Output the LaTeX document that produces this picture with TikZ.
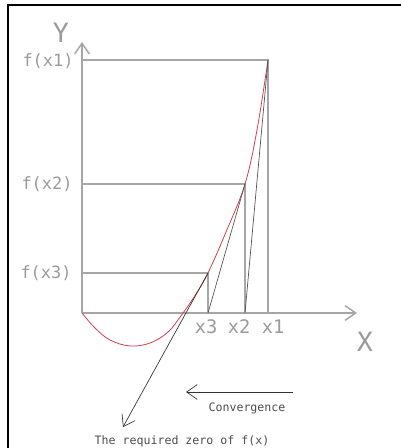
\documentclass[tikz,border=0pt]{standalone}
\usepackage{fontspec}
\setmonofont{DejaVu Sans Mono}
\usetikzlibrary{arrows.meta}
\definecolor{axisgray}{HTML}{A6A6A6}
\definecolor{labelgray}{HTML}{9A9A9A}
\definecolor{tangentgray}{HTML}{505050}
\definecolor{curvered}{HTML}{D0404C}

\begin{document}
\begin{tikzpicture}[
  x=0.75pt, y=-0.75pt,
  >={Straight Barb[length=8pt,width=11pt]},
  axis/.style={draw=axisgray, line width=1.1pt},
  guide/.style={draw=axisgray, line width=0.9pt},
  tangent/.style={draw=tangentgray, line width=0.5pt},
  curve/.style={draw=curvered, line width=0.6pt},
  biglbl/.style={font={\ttfamily\fontsize{20}{22}\selectfont}, text=labelgray, inner sep=0pt},
  flbl/.style={font={\ttfamily\fontsize{12.7}{14}\selectfont}, text=labelgray, inner sep=0pt},
  xlbl/.style={font={\ttfamily\fontsize{14}{16}\selectfont}, text=labelgray, inner sep=0pt},
  note/.style={font={\ttfamily\fontsize{8.7}{10}\selectfont}, text=black!70, inner sep=0pt}
]
\useasboundingbox (0,0) rectangle (401,448);

% frame
\draw[line width=2.2pt] (7,5) -- (401,5);
\draw[line width=1.1pt] (8,5) -- (8,448);

\coordinate (O) at (82,313);
\coordinate (ytop) at (82,42);
\coordinate (xend) at (357,313);
\coordinate (x1) at (268,313);
\coordinate (x2) at (245,313);
\coordinate (x3) at (208,313);
\coordinate (fx1) at (268,60);
\coordinate (fx2) at (245,184);
\coordinate (fx3) at (208,273);
\coordinate (fy1) at (82,60);
\coordinate (fy2) at (82,184);
\coordinate (fy3) at (82,273);
\coordinate (zero) at (123,427);
\coordinate (convR) at (293,392);
\coordinate (convL) at (186,392);

\node[biglbl] (ylab) at (61,33) {Y};
\node[biglbl] (xlab) at (365,342) {X};
\node[flbl] (f1) at (48,61) {f(x1)};
\node[flbl] (f2) at (47,184) {f(x2)};
\node[flbl] (f3) at (46,273) {f(x3)};
\node[xlbl] (lx3) at (206,327) {x3};
\node[xlbl] (lx2) at (239,327) {x2};
\node[xlbl] (lx1) at (273,327) {x1};
\node[note] (conv) at (247,408) {Convergence};
\node[note] (req) at (182,441) {The required zero of f(x)};

\draw[axis, ->] (O) -- (ytop);
\draw[axis, ->] (O) -- (xend);

\draw[guide] (fy1) -- (fx1) -- (x1);
\draw[guide] (fy2) -- (fx2) -- (x2);
\draw[guide] (fy3) -- (fx3) -- (x3);

\draw[curve] plot[smooth, tension=0.6] coordinates {(82,313) (95,328) (110,340) (130,346) (150,343) (168,332) (183,313) (196,294) (208,273) (226,232) (245,184) (257,130) (268,60)};

\draw[tangent] (fx1) -- (x2);
\draw[tangent] (fx2) -- (x3);
\draw[tangent, ->, draw=black!80] (fx3) -- (zero);

\draw[tangent, ->, draw=black!80] (convR) -- (convL);
\end{tikzpicture}
\end{document}
